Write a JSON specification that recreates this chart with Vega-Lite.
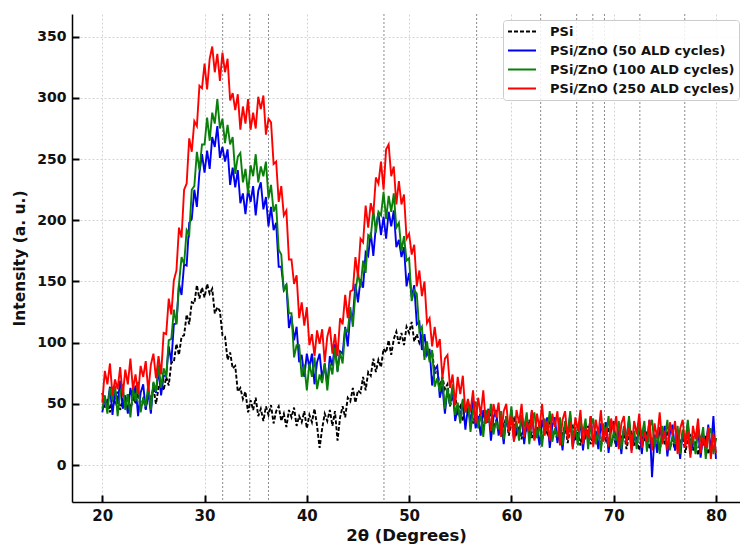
{
"$schema": "https://vega.github.io/schema/vega-lite/v6.json",
"width": 668, "height": 488,
"autosize": {"type": "none"},
"padding": {"left": 72, "top": 14, "right": 0, "bottom": 46},
"config": {"view": {"stroke": null}, "font": "DejaVu Sans"},
"datasets": {
"peaks": [{"z":31.77},{"z":34.42},{"z":36.25},{"z":47.54},{"z":56.6},{"z":62.86},{"z":66.38},{"z":67.96},{"z":69.1},{"z":72.56},{"z":76.95}],
"xrd": [
{"x":20,"a":59,"b":43,"c":46,"d":51},
{"x":20.25,"a":47,"b":55,"c":57,"d":77},
{"x":20.5,"a":54,"b":48,"c":42,"d":66},
{"x":20.75,"a":43,"b":64,"c":63,"d":83},
{"x":21,"a":57,"b":41,"c":53,"d":57},
{"x":21.25,"a":51,"b":61,"c":65,"d":70},
{"x":21.5,"a":60,"b":50,"c":40,"d":62},
{"x":21.75,"a":45,"b":69,"c":59,"d":80},
{"x":22,"a":53,"b":46,"c":66,"d":56},
{"x":22.25,"a":48,"b":57,"c":45,"d":78},
{"x":22.5,"a":58,"b":42,"c":58,"d":66},
{"x":22.75,"a":44,"b":63,"c":39,"d":87},
{"x":23,"a":56,"b":53,"c":62,"d":62},
{"x":23.25,"a":50,"b":65,"c":52,"d":74},
{"x":23.5,"a":61,"b":40,"c":68,"d":58},
{"x":23.75,"a":47,"b":59,"c":43,"d":81},
{"x":24,"a":54,"b":66,"c":55,"d":72},
{"x":24.25,"a":46,"b":45,"c":48,"d":85},
{"x":24.5,"a":59,"b":60,"c":66,"d":60},
{"x":24.75,"a":54,"b":42,"c":45,"d":82},
{"x":25,"a":63,"b":67,"c":68,"d":91},
{"x":25.25,"a":50,"b":59,"c":60,"d":71},
{"x":25.5,"a":63,"b":78,"c":82,"d":89},
{"x":25.75,"a":70,"b":57,"c":63,"d":74},
{"x":26,"a":61,"b":73,"c":79,"d":108},
{"x":26.25,"a":72,"b":73,"c":72,"d":107},
{"x":26.5,"a":65,"b":97,"c":102,"d":136},
{"x":26.75,"a":84,"b":84,"c":103,"d":123},
{"x":27,"a":84,"b":115,"c":127,"d":151},
{"x":27.25,"a":99,"b":116,"c":115,"d":159},
{"x":27.5,"a":90,"b":148,"c":148,"d":194},
{"x":27.75,"a":105,"b":139,"c":170,"d":186},
{"x":28,"a":106,"b":164,"c":164,"d":225},
{"x":28.25,"a":123,"b":163,"c":192,"d":230},
{"x":28.5,"a":115,"b":198,"c":188,"d":267},
{"x":28.75,"a":133,"b":201,"c":225,"d":256},
{"x":29,"a":132,"b":225,"c":228,"d":281},
{"x":29.25,"a":147,"b":211,"c":256,"d":277},
{"x":29.5,"a":136,"b":239,"c":241,"d":310},
{"x":29.75,"a":145,"b":254,"c":262,"d":308},
{"x":30,"a":137,"b":239,"c":262,"d":328},
{"x":30.25,"a":148,"b":257,"c":284,"d":307},
{"x":30.5,"a":140,"b":242,"c":265,"d":332},
{"x":30.75,"a":144,"b":268,"c":288,"d":342},
{"x":31,"a":124,"b":260,"c":279,"d":321},
{"x":31.25,"a":129,"b":277,"c":299,"d":336},
{"x":31.5,"a":126,"b":251,"c":275,"d":314},
{"x":31.75,"a":106,"b":260,"c":283,"d":337},
{"x":32,"a":105,"b":248,"c":263,"d":321},
{"x":32.25,"a":86,"b":258,"c":278,"d":332},
{"x":32.5,"a":92,"b":229,"c":262,"d":298},
{"x":32.75,"a":79,"b":243,"c":268,"d":304},
{"x":33,"a":81,"b":227,"c":238,"d":290},
{"x":33.25,"a":60,"b":241,"c":252,"d":303},
{"x":33.5,"a":63,"b":214,"c":255,"d":274},
{"x":33.75,"a":54,"b":222,"c":231,"d":293},
{"x":34,"a":60,"b":205,"c":242,"d":279},
{"x":34.25,"a":43,"b":225,"c":222,"d":299},
{"x":34.5,"a":53,"b":215,"c":245,"d":274},
{"x":34.75,"a":45,"b":228,"c":236,"d":288},
{"x":35,"a":55,"b":204,"c":254,"d":275},
{"x":35.25,"a":40,"b":224,"c":231,"d":301},
{"x":35.5,"a":46,"b":231,"c":244,"d":291},
{"x":35.75,"a":36,"b":209,"c":236,"d":302},
{"x":36,"a":48,"b":219,"c":248,"d":270},
{"x":36.25,"a":41,"b":195,"c":218,"d":283},
{"x":36.5,"a":49,"b":211,"c":229,"d":280},
{"x":36.75,"a":34,"b":192,"c":207,"d":246},
{"x":37,"a":44,"b":198,"c":213,"d":248},
{"x":37.25,"a":48,"b":162,"c":176,"d":215},
{"x":37.5,"a":36,"b":162,"c":172,"d":228},
{"x":37.75,"a":42,"b":143,"c":142,"d":204},
{"x":38,"a":31,"b":147,"c":148,"d":208},
{"x":38.25,"a":45,"b":112,"c":124,"d":168},
{"x":38.5,"a":39,"b":122,"c":124,"d":168},
{"x":38.75,"a":47,"b":102,"c":88,"d":148},
{"x":39,"a":32,"b":113,"c":98,"d":155},
{"x":39.25,"a":40,"b":84,"c":98,"d":120},
{"x":39.5,"a":35,"b":90,"c":72,"d":133},
{"x":39.75,"a":44,"b":72,"c":82,"d":114},
{"x":40,"a":30,"b":91,"c":61,"d":129},
{"x":40.25,"a":41,"b":80,"c":83,"d":98},
{"x":40.5,"a":35,"b":91,"c":72,"d":107},
{"x":40.75,"a":46,"b":66,"c":88,"d":89},
{"x":41,"a":32,"b":84,"c":62,"d":110},
{"x":41.25,"a":14,"b":91,"c":74,"d":99},
{"x":41.5,"a":30,"b":70,"c":67,"d":111},
{"x":41.75,"a":42,"b":83,"c":83,"d":84},
{"x":42,"a":36,"b":65,"c":61,"d":105},
{"x":42.25,"a":45,"b":89,"c":83,"d":113},
{"x":42.5,"a":32,"b":81,"c":74,"d":91},
{"x":42.75,"a":44,"b":99,"c":96,"d":107},
{"x":43,"a":20,"b":77,"c":76,"d":89},
{"x":43.25,"a":39,"b":93,"c":92,"d":120},
{"x":43.5,"a":48,"b":91,"c":83,"d":115},
{"x":43.75,"a":39,"b":113,"c":111,"d":139},
{"x":44,"a":55,"b":97,"c":109,"d":120},
{"x":44.25,"a":52,"b":124,"c":129,"d":142},
{"x":44.5,"a":63,"b":121,"c":113,"d":143},
{"x":44.75,"a":51,"b":148,"c":141,"d":170},
{"x":45,"a":61,"b":133,"c":157,"d":154},
{"x":45.25,"a":59,"b":152,"c":145,"d":185},
{"x":45.5,"a":72,"b":145,"c":167,"d":182},
{"x":45.75,"a":61,"b":174,"c":157,"d":212},
{"x":46,"a":76,"b":171,"c":188,"d":194},
{"x":46.25,"a":73,"b":190,"c":186,"d":214},
{"x":46.5,"a":87,"b":171,"c":209,"d":205},
{"x":46.75,"a":76,"b":195,"c":190,"d":235},
{"x":47,"a":86,"b":206,"c":207,"d":230},
{"x":47.25,"a":80,"b":188,"c":204,"d":248},
{"x":47.5,"a":95,"b":203,"c":223,"d":225},
{"x":47.75,"a":92,"b":185,"c":201,"d":258},
{"x":48,"a":102,"b":207,"c":220,"d":262},
{"x":48.25,"a":90,"b":195,"c":207,"d":236},
{"x":48.5,"a":103,"b":208,"c":222,"d":244},
{"x":48.75,"a":109,"b":178,"c":194,"d":213},
{"x":49,"a":99,"b":184,"c":198,"d":232},
{"x":49.25,"a":108,"b":170,"c":175,"d":213},
{"x":49.5,"a":98,"b":178,"c":187,"d":221},
{"x":49.75,"a":113,"b":146,"c":167,"d":185},
{"x":50,"a":108,"b":157,"c":169,"d":189},
{"x":50.25,"a":117,"b":137,"c":134,"d":172},
{"x":50.5,"a":101,"b":147,"c":143,"d":180},
{"x":50.75,"a":107,"b":115,"c":140,"d":146},
{"x":51,"a":100,"b":117,"c":109,"d":159},
{"x":51.25,"a":107,"b":94,"c":113,"d":138},
{"x":51.5,"a":89,"b":107,"c":86,"d":150},
{"x":51.75,"a":97,"b":90,"c":101,"d":116},
{"x":52,"a":87,"b":95,"c":84,"d":120},
{"x":52.25,"a":93,"b":65,"c":94,"d":97},
{"x":52.5,"a":75,"b":78,"c":64,"d":113},
{"x":52.75,"a":77,"b":81,"c":71,"d":96},
{"x":53,"a":64,"b":55,"c":60,"d":103},
{"x":53.25,"a":72,"b":65,"c":72,"d":71},
{"x":53.5,"a":62,"b":42,"c":46,"d":87},
{"x":53.75,"a":66,"b":62,"c":63,"d":90},
{"x":54,"a":48,"b":49,"c":49,"d":63},
{"x":54.25,"a":56,"b":63,"c":66,"d":74},
{"x":54.5,"a":57,"b":36,"c":41,"d":49},
{"x":54.75,"a":43,"b":47,"c":51,"d":72},
{"x":55,"a":48,"b":38,"c":34,"d":58},
{"x":55.25,"a":36,"b":53,"c":54,"d":73},
{"x":55.5,"a":49,"b":29,"c":43,"d":43},
{"x":55.75,"a":42,"b":47,"c":53,"d":54},
{"x":56,"a":49,"b":35,"c":27,"d":44},
{"x":56.25,"a":34,"b":53,"c":45,"d":61},
{"x":56.5,"a":41,"b":30,"c":52,"d":34},
{"x":56.75,"a":35,"b":40,"c":30,"d":55},
{"x":57,"a":44,"b":24,"c":42,"d":41},
{"x":57.25,"a":30,"b":45,"c":23,"d":61},
{"x":57.5,"a":41,"b":34,"c":45,"d":34},
{"x":57.75,"a":34,"b":46,"c":35,"d":45},
{"x":58,"a":44,"b":20,"c":50,"d":28},
{"x":58.25,"a":30,"b":39,"c":25,"d":50},
{"x":58.5,"a":36,"b":45,"c":36,"d":39},
{"x":58.75,"a":27,"b":24,"c":29,"d":51},
{"x":59,"a":38,"b":36,"c":44,"d":23},
{"x":59.25,"a":32,"b":17,"c":21,"d":44},
{"x":59.5,"a":39,"b":40,"c":40,"d":50},
{"x":59.75,"a":24,"b":29,"c":29,"d":27},
{"x":60,"a":34,"b":45,"c":48,"d":40},
{"x":60.25,"a":38,"b":20,"c":25,"d":19},
{"x":60.5,"a":26,"b":31,"c":36,"d":45},
{"x":60.75,"a":32,"b":24,"c":20,"d":34},
{"x":61,"a":21,"b":40,"c":41,"d":50},
{"x":61.25,"a":35,"b":17,"c":31,"d":23},
{"x":61.5,"a":29,"b":36,"c":43,"d":36},
{"x":61.75,"a":37,"b":25,"c":17,"d":28},
{"x":62,"a":22,"b":44,"c":36,"d":45},
{"x":62.25,"a":30,"b":21,"c":43,"d":20},
{"x":62.5,"a":25,"b":31,"c":22,"d":42},
{"x":62.75,"a":34,"b":16,"c":34,"d":30},
{"x":63,"a":20,"b":37,"c":15,"d":50},
{"x":63.25,"a":32,"b":27,"c":38,"d":24},
{"x":63.5,"a":26,"b":39,"c":28,"d":36},
{"x":63.75,"a":36,"b":14,"c":44,"d":20},
{"x":64,"a":22,"b":32,"c":19,"d":42},
{"x":64.25,"a":29,"b":39,"c":30,"d":31},
{"x":64.5,"a":20,"b":18,"c":23,"d":44},
{"x":64.75,"a":31,"b":31,"c":39,"d":16},
{"x":65,"a":25,"b":12,"c":16,"d":37},
{"x":65.25,"a":33,"b":35,"c":36,"d":44},
{"x":65.5,"a":18,"b":25,"c":25,"d":21},
{"x":65.75,"a":29,"b":41,"c":44,"d":35},
{"x":66,"a":32,"b":15,"c":20,"d":13},
{"x":66.25,"a":20,"b":27,"c":31,"d":39},
{"x":66.5,"a":27,"b":20,"c":16,"d":28},
{"x":66.75,"a":16,"b":36,"c":37,"d":45},
{"x":67,"a":29,"b":12,"c":26,"d":17},
{"x":67.25,"a":23,"b":32,"c":38,"d":30},
{"x":67.5,"a":32,"b":21,"c":13,"d":22},
{"x":67.75,"a":17,"b":40,"c":32,"d":40},
{"x":68,"a":24,"b":17,"c":38,"d":15},
{"x":68.25,"a":19,"b":28,"c":17,"d":37},
{"x":68.5,"a":29,"b":13,"c":30,"d":25},
{"x":68.75,"a":15,"b":34,"c":11,"d":45},
{"x":69,"a":26,"b":23,"c":34,"d":19},
{"x":69.25,"a":20,"b":35,"c":24,"d":31},
{"x":69.5,"a":31,"b":10,"c":40,"d":15},
{"x":69.75,"a":17,"b":29,"c":15,"d":38},
{"x":70,"a":24,"b":36,"c":27,"d":27},
{"x":70.25,"a":15,"b":15,"c":20,"d":40},
{"x":70.5,"a":27,"b":28,"c":36,"d":13},
{"x":70.75,"a":21,"b":9,"c":13,"d":34},
{"x":71,"a":28,"b":31,"c":32,"d":40},
{"x":71.25,"a":13,"b":21,"c":21,"d":17},
{"x":71.5,"a":24,"b":37,"c":40,"d":31},
{"x":71.75,"a":28,"b":12,"c":17,"d":10},
{"x":72,"a":16,"b":24,"c":28,"d":36},
{"x":72.25,"a":23,"b":17,"c":13,"d":25},
{"x":72.5,"a":12,"b":33,"c":34,"d":42},
{"x":72.75,"a":25,"b":9,"c":24,"d":14},
{"x":73,"a":19,"b":29,"c":36,"d":27},
{"x":73.25,"a":28,"b":18,"c":11,"d":19},
{"x":73.5,"a":13,"b":37,"c":30,"d":37},
{"x":73.75,"a":21,"b":-10,"c":37,"d":12},
{"x":74,"a":16,"b":25,"c":15,"d":34},
{"x":74.25,"a":26,"b":10,"c":28,"d":22},
{"x":74.5,"a":12,"b":31,"c":9,"d":43},
{"x":74.75,"a":24,"b":21,"c":32,"d":17},
{"x":75,"a":17,"b":32,"c":21,"d":28},
{"x":75.25,"a":28,"b":7,"c":37,"d":12},
{"x":75.5,"a":14,"b":26,"c":12,"d":35},
{"x":75.75,"a":21,"b":33,"c":24,"d":24},
{"x":76,"a":12,"b":12,"c":17,"d":36},
{"x":76.25,"a":23,"b":25,"c":32,"d":9},
{"x":76.5,"a":17,"b":5,"c":9,"d":30},
{"x":76.75,"a":25,"b":28,"c":29,"d":37},
{"x":77,"a":10,"b":18,"c":18,"d":14},
{"x":77.25,"a":21,"b":34,"c":37,"d":28},
{"x":77.5,"a":24,"b":9,"c":14,"d":6},
{"x":77.75,"a":12,"b":20,"c":24,"d":32},
{"x":78,"a":19,"b":13,"c":9,"d":21},
{"x":78.25,"a":8,"b":29,"c":30,"d":38},
{"x":78.5,"a":22,"b":6,"c":19,"d":10},
{"x":78.75,"a":16,"b":25,"c":31,"d":23},
{"x":79,"a":24,"b":14,"c":5,"d":14},
{"x":79.25,"a":9,"b":33,"c":24,"d":31},
{"x":79.5,"a":17,"b":10,"c":30,"d":5},
{"x":79.75,"a":12,"b":40,"c":9,"d":26},
{"x":80,"a":22,"b":5,"c":22,"d":10}
]},
"layer": [
{"data": {"name": "peaks"},
 "mark": {"type": "rule", "stroke": "#8a8a8a", "strokeDash": [2, 2], "strokeWidth": 1},
 "encoding": {"x": {"field": "z", "type": "quantitative",
   "scale": {"domain": [17.04, 82.35], "nice": false, "zero": false},
   "axis": {"values": [20, 30, 40, 50, 60, 70, 80], "title": "2θ (Degrees)",
    "grid": true, "gridColor": "#d4d4d4", "gridDash": [2, 2], "gridWidth": 1,
    "domainColor": "#000", "domainWidth": 1.5,
    "tickColor": "#000", "tickWidth": 2, "tickSize": -7,
    "labelPadding": 13, "labelFontSize": 15, "labelFontWeight": "bold", "labelColor": "#111", "labelFont": "DejaVu Sans",
    "titleFontSize": 16.5, "titleFontWeight": "bold", "titleColor": "#111", "titleFont": "DejaVu Sans", "titlePadding": 4}}}},
{"data": {"name": "xrd"},
 "transform": [{"fold": ["a", "b", "c", "d"], "as": ["s", "v"]}],
 "mark": {"type": "line", "strokeWidth": 1.9},
 "encoding": {
  "x": {"field": "x", "type": "quantitative",
   "scale": {"domain": [17.04, 82.35], "nice": false, "zero": false},
   "axis": {"values": [20, 30, 40, 50, 60, 70, 80], "title": "2θ (Degrees)",
    "grid": true, "gridColor": "#d4d4d4", "gridDash": [2, 2], "gridWidth": 1,
    "domainColor": "#000", "domainWidth": 1.5,
    "tickColor": "#000", "tickWidth": 2, "tickSize": -7,
    "labelPadding": 13, "labelFontSize": 15, "labelFontWeight": "bold", "labelColor": "#111", "labelFont": "DejaVu Sans",
    "titleFontSize": 16.5, "titleFontWeight": "bold", "titleColor": "#111", "titleFont": "DejaVu Sans", "titlePadding": 4}},
  "y": {"field": "v", "type": "quantitative",
   "scale": {"domain": [-30.2, 368.6], "nice": false, "zero": false},
   "axis": {"values": [0, 50, 100, 150, 200, 250, 300, 350], "title": "Intensity (a. u.)",
    "grid": true, "gridColor": "#d4d4d4", "gridDash": [2, 2], "gridWidth": 1,
    "domainColor": "#000", "domainWidth": 1.5,
    "tickColor": "#000", "tickWidth": 2, "tickSize": -7,
    "labelPadding": 13, "labelFontSize": 14, "labelFontWeight": "bold", "labelColor": "#111", "labelFont": "DejaVu Sans",
    "titleFontSize": 15.5, "titleFontWeight": "bold", "titleColor": "#111", "titleFont": "DejaVu Sans", "titlePadding": 9}},
  "color": {"field": "s", "type": "nominal",
   "scale": {"domain": ["a", "b", "c", "d"], "range": ["#000000", "#0000f0", "#0a800a", "#ff0000"]},
   "legend": {"title": null, "orient": "none", "legendX": 431, "legendY": 6,
    "labelExpr": "datum.label == 'a' ? 'PSi' : datum.label == 'b' ? 'PSi/ZnO (50 ALD cycles)' : datum.label == 'c' ? 'PSi/ZnO (100 ALD cycles)' : 'PSi/ZnO (250 ALD cycles)'",
    "labelFont": "DejaVu Sans", "labelFontSize": 13, "labelFontWeight": "bold", "labelColor": "#111", "labelLimit": 300,
    "symbolType": "stroke", "symbolSize": 784, "symbolStrokeWidth": 2, "clipHeight": 15,
    "labelOffset": 13, "rowPadding": 4, "padding": 4,
    "fillColor": "rgba(255,255,255,0.85)", "strokeColor": "#cccccc", "cornerRadius": 3}},
  "strokeDash": {"field": "s", "type": "nominal",
   "scale": {"domain": ["a", "b", "c", "d"], "range": [[4, 2], [1, 0], [1, 0], [1, 0]]},
   "legend": {"title": null, "orient": "none", "legendX": 431, "legendY": 6,
    "labelExpr": "datum.label == 'a' ? 'PSi' : datum.label == 'b' ? 'PSi/ZnO (50 ALD cycles)' : datum.label == 'c' ? 'PSi/ZnO (100 ALD cycles)' : 'PSi/ZnO (250 ALD cycles)'",
    "labelFont": "DejaVu Sans", "labelFontSize": 13, "labelFontWeight": "bold", "labelColor": "#111", "labelLimit": 300,
    "symbolType": "stroke", "symbolSize": 784, "symbolStrokeWidth": 2, "clipHeight": 15,
    "labelOffset": 13, "rowPadding": 4, "padding": 4,
    "fillColor": "rgba(255,255,255,0.85)", "strokeColor": "#cccccc", "cornerRadius": 3}}
 }}
]
}
